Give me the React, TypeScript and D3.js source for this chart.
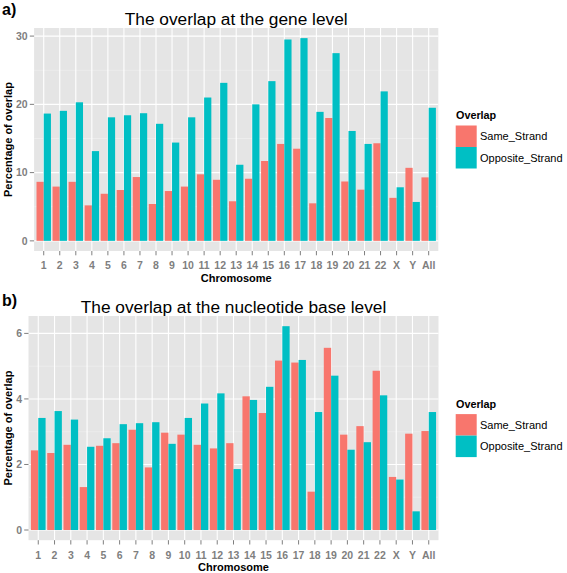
import React from "react";
import * as d3 from "d3";

const chromosomes = ["1","2","3","4","5","6","7","8","9","10","11","12","13","14","15","16","17","18","19","20","21","22","X","Y","All"];
const seriesNames = ["Same_Strand", "Opposite_Strand"];
const seriesColors = ["#F8766D", "#00BFC4"];

const geneSame = [8.65, 7.95, 8.65, 5.2, 6.9, 7.45, 9.35, 5.4, 7.3, 7.95, 9.75, 8.95, 5.8, 9.1, 11.7, 14.2, 13.5, 5.5, 18.0, 8.7, 7.5, 14.3, 6.3, 10.7, 9.3];
const geneOpposite = [18.65, 19.05, 20.3, 13.15, 18.1, 18.4, 18.7, 17.15, 14.4, 18.1, 21.0, 23.15, 11.15, 20.0, 23.4, 29.5, 29.7, 18.9, 27.5, 16.1, 14.2, 21.9, 7.85, 5.7, 19.5];

const nucSame = [2.43, 2.35, 2.6, 1.31, 2.57, 2.65, 3.06, 1.91, 2.97, 2.91, 2.6, 2.49, 2.65, 4.08, 3.57, 5.17, 5.11, 1.17, 5.56, 2.91, 3.17, 4.86, 1.62, 2.94, 3.02];
const nucOpposite = [3.42, 3.63, 3.37, 2.54, 2.8, 3.23, 3.26, 3.29, 2.63, 3.42, 3.86, 4.17, 1.86, 3.97, 4.37, 6.22, 5.19, 3.6, 4.71, 2.45, 2.68, 4.11, 1.54, 0.57, 3.6];

const geneTicks = [0, 10, 20, 30];
const geneMinor = [5, 15, 25];
const nucTicks = [0, 2, 4, 6];
const nucMinor = [1, 3, 5];

const FONT = "'Liberation Sans', Arial, Helvetica, sans-serif";

type PanelProps = {
  tag: string;
  title: string;
  same: number[];
  opposite: number[];
  ticks: number[];
  minor: number[];
  left: number;
  right: number;
  top: number;
  bottom: number;
  titleY: number;
  tagY: number;
  xLabelY: number;
  tickLabelY: number;
};

function Panel(p: PanelProps) {
  const x = d3.scalePoint<string>().domain(chromosomes).range([p.left, p.right]).padding(0.6);
  const step = x.step();
  const bw = step * 0.45;
  const maxV = d3.max([...p.same, ...p.opposite]) as number;
  const pad = maxV * 0.05;
  const y = d3.scaleLinear().domain([-pad, maxV + pad]).range([p.bottom, p.top]);
  const midX = (p.left + p.right) / 2;
  const midY = (p.top + p.bottom) / 2;
  const series = [p.same, p.opposite];
  return (
    <g>
      <text x={2} y={p.tagY} fontFamily={FONT} fontWeight="bold" fontSize={16} fill="#000">{p.tag}</text>
      <text x={midX} y={p.titleY} fontFamily={FONT} fontSize={17.3} textAnchor="middle" fill="#000">{p.title}</text>
      <rect x={p.left} y={p.top} width={p.right - p.left} height={p.bottom - p.top} fill="#E5E5E5" />
      {p.minor.map((t) => (
        <line key={"mn" + t} x1={p.left} x2={p.right} y1={y(t)} y2={y(t)} stroke="#F2F2F2" strokeWidth={0.6} />
      ))}
      {p.ticks.map((t) => (
        <line key={"mj" + t} x1={p.left} x2={p.right} y1={y(t)} y2={y(t)} stroke="#FFFFFF" strokeWidth={1.1} />
      ))}
      {chromosomes.map((c) => (
        <line key={"v" + c} x1={x(c)} x2={x(c)} y1={p.top} y2={p.bottom} stroke="#FFFFFF" strokeWidth={1.1} />
      ))}
      {series.map((vals, si) =>
        vals.map((v, i) => {
          const cx = x(chromosomes[i]) as number;
          const bx = si === 0 ? cx - bw : cx;
          return (
            <rect key={si + "-" + i} x={bx} y={y(v)} width={bw} height={y(0) - y(v)} fill={seriesColors[si]} />
          );
        })
      )}
      {p.ticks.map((t) => (
        <g key={"yt" + t}>
          <line x1={p.left - 4.3} x2={p.left} y1={y(t)} y2={y(t)} stroke="#7F7F7F" strokeWidth={1} />
          <text x={p.left - 6.5} y={y(t) + 3.8} textAnchor="end" fontFamily={FONT} fontWeight="bold" fontSize={10.5} fill="#7F7F7F">{t}</text>
        </g>
      ))}
      {chromosomes.map((c) => (
        <g key={"xt" + c}>
          <line x1={x(c)} x2={x(c)} y1={p.bottom} y2={p.bottom + 4.3} stroke="#7F7F7F" strokeWidth={1} />
          <text x={x(c)} y={p.tickLabelY} textAnchor="middle" fontFamily={FONT} fontWeight="bold" fontSize={10.5} fill="#7F7F7F">{c}</text>
        </g>
      ))}
      <text x={midX} y={p.xLabelY} textAnchor="middle" fontFamily={FONT} fontWeight="bold" fontSize={11} fill="#000">Chromosome</text>
      <text transform={`translate(11.5,${midY}) rotate(-90)`} textAnchor="middle" fontFamily={FONT} fontWeight="bold" fontSize={11} fill="#000">Percentage of overlap</text>
      <text x={456} y={midY - 20.5} fontFamily={FONT} fontWeight="bold" fontSize={10.8} fill="#000">Overlap</text>
      {seriesNames.map((s, i) => (
        <g key={s}>
          <rect x={455.7} y={midY - 14 + i * 21.5} width={21} height={21.5} fill={seriesColors[i]} />
          <text x={480} y={midY - 14 + i * 21.5 + 14.8} fontFamily={FONT} fontSize={11} fill="#000">{s}</text>
        </g>
      ))}
    </g>
  );
}

export default function App() {
  return (
    <svg width={567} height={573} style={{ position: "absolute", left: 0, top: 0, background: "#fff" }}>
      <rect x={0} y={0} width={567} height={573} fill="#fff" />
      <Panel
        tag="a)"
        title="The overlap at the gene level"
        same={geneSame}
        opposite={geneOpposite}
        ticks={geneTicks}
        minor={geneMinor}
        left={34.1}
        right={438.3}
        top={28}
        bottom={251}
        titleY={25}
        tagY={15}
        xLabelY={281.5}
        tickLabelY={269.3}
      />
      <Panel
        tag="b)"
        title="The overlap at the nucleotide base level"
        same={nucSame}
        opposite={nucOpposite}
        ticks={nucTicks}
        minor={nucMinor}
        left={28.5}
        right={438.5}
        top={316}
        bottom={540.2}
        titleY={313.3}
        tagY={306}
        xLabelY={570.5}
        tickLabelY={558.5}
      />
    </svg>
  );
}
